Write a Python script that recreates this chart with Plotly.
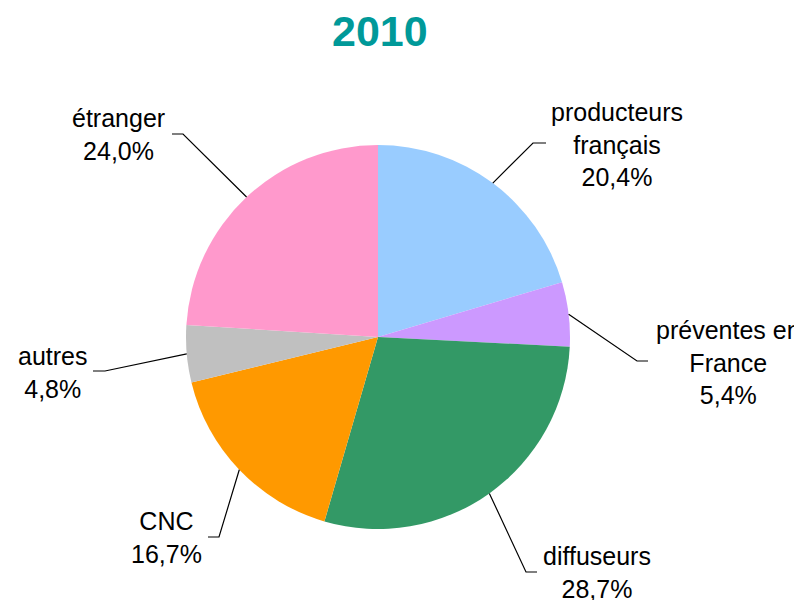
import math
import plotly.graph_objects as go

# ---- data ----
categories = ["producteurs<br>français", "préventes en<br>France", "diffuseurs", "CNC", "autres", "étranger"]
values = [20.4, 5.4, 28.7, 16.7, 4.8, 24.0]
value_labels = ["20,4%", "5,4%", "28,7%", "16,7%", "4,8%", "24,0%"]
colors = ["#99CCFF", "#CC99FF", "#339966", "#FF9900", "#C0C0C0", "#FF99CC"]
title_text = "2010"

# ---- layout (screen px of the 802x600 page; page body has an 8px margin) ----
OFF = 8
W, H = 802 - OFF, 600 - OFF
CX, CY, R = 378, 337, 192
label_pos = [(617, 145), (728, 362), (597, 572), (166, 537), (52, 372), (118, 135)]
leader_bend = [(533, 143), (637, 361), (526, 572), (219, 537), (105, 371), (183, 134)]
leader_end = [(546, 143), (648, 361), (537, 572), (208, 537), (93, 371), (172, 134)]


def px2paper(x, y):
    return (x - OFF) / W, 1 - (y - OFF) / H


x0, y1 = px2paper(CX - R, CY - R)
x1, y0 = px2paper(CX + R, CY + R)

fig = go.Figure(go.Pie(
    labels=[c.replace("<br>", " ") for c in categories],
    values=values,
    sort=False,
    direction="clockwise",
    rotation=0,
    textinfo="none",
    hoverinfo="label+percent",
    marker=dict(colors=colors, line=dict(width=0)),
    domain=dict(x=[x0, x1], y=[y0, y1]),
    showlegend=False,
))

total = sum(values)
cum = 0.0
shapes = []
annotations = []
for i, v in enumerate(values):
    mid = (cum + v / 2) / total * 2 * math.pi
    cum += v
    sx = CX + R * math.sin(mid)
    sy = CY - R * math.cos(mid)
    pts = [px2paper(sx, sy), px2paper(*leader_bend[i]), px2paper(*leader_end[i])]
    path = "M {} {} L {} {} L {} {}".format(*pts[0], *pts[1], *pts[2])
    shapes.append(dict(type="path", xref="paper", yref="paper", path=path,
                       line=dict(color="black", width=1.2)))
    lx, ly = px2paper(*label_pos[i])
    annotations.append(dict(
        x=lx, y=ly, xref="paper", yref="paper", xanchor="center", yanchor="middle",
        text=categories[i] + "<br>" + value_labels[i], showarrow=False,
        align="center", font=dict(family="Liberation Sans, Arial", size=25, color="black"),
    ))

tx, ty = px2paper(380, 31)
annotations.append(dict(
    x=tx, y=ty, xref="paper", yref="paper", xanchor="center", yanchor="middle",
    text="<b>" + title_text + "</b>", showarrow=False,
    font=dict(family="Liberation Sans, Arial", size=43, color="#009999"),
))

fig.update_layout(
    width=W, height=H,
    margin=dict(l=0, r=0, t=0, b=0),
    paper_bgcolor="white", plot_bgcolor="white",
    shapes=shapes, annotations=annotations,
)

fig.write_html("out.html")
